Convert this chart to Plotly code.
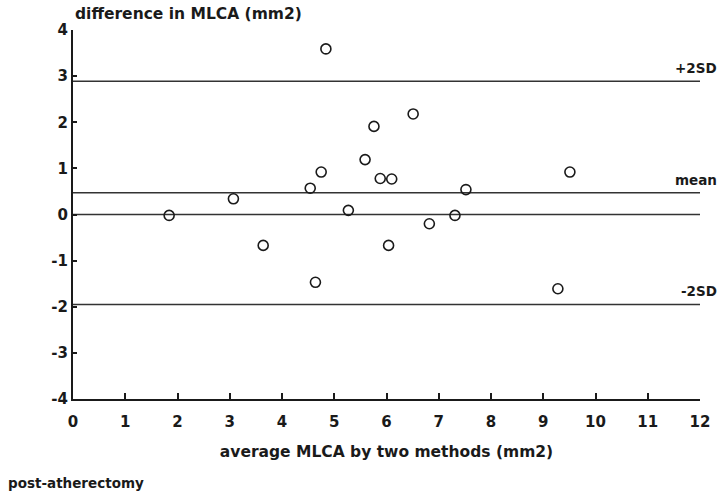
import plotly.graph_objects as go

# Bland-Altman comparison of MLCA measured by two methods (post-atherectomy)
avg_mlca = [1.84, 3.07, 3.64, 4.54, 4.64, 4.75, 4.84, 5.27, 5.59, 5.76,
            5.88, 6.10, 6.04, 6.51, 6.82, 7.31, 7.52, 9.28, 9.51]
diff_mlca = [-0.02, 0.34, -0.67, 0.57, -1.47, 0.92, 3.59, 0.09, 1.19, 1.91,
             0.78, 0.77, -0.67, 2.18, -0.20, -0.02, 0.54, -1.61, 0.92]

ref_names = ["+2SD", "mean", "", "-2SD"]
ref_values = [2.89, 0.47, 0.0, -1.95]

x_ticks = list(range(0, 13))
y_ticks = list(range(-4, 5))

FONT = "DejaVu Sans, Liberation Sans, sans-serif"
INK = "#1a1a1a"

# plot area in pixels
W, H = 725, 493
L, R, T, B = 73, 25, 30, 94
PW, PH = W - L - R, H - T - B

fig = go.Figure()

fig.add_trace(go.Scatter(
    x=avg_mlca, y=diff_mlca, mode="markers",
    marker=dict(symbol="circle-open", size=10, color=INK, line=dict(width=1.6)),
    cliponaxis=False, showlegend=False,
))

for name, val in zip(ref_names, ref_values):
    fig.add_shape(type="line", xref="x", yref="y", x0=0, x1=12, y0=val, y1=val,
                  line=dict(color="#333333", width=1.5), layer="below")
    if name:
        fig.add_annotation(x=1 + 19 / PW, y=val, xref="paper", yref="y", text=name,
                           showarrow=False, xanchor="right", yanchor="bottom",
                           yshift=3, font=dict(family=FONT, size=13.5, color=INK, weight="bold"))

fig.update_xaxes(
    range=[0, 12], tickvals=x_ticks, ticktext=[str(v) for v in x_ticks],
    showgrid=False, zeroline=False, showline=True, linecolor=INK, linewidth=2,
    ticks="inside", ticklen=6, tickwidth=1.5, tickcolor=INK, ticklabelstandoff=8,
    tickfont=dict(family=FONT, size=15, color=INK, weight="bold"),
    title=dict(text="average MLCA by two methods (mm2)", standoff=16,
               font=dict(family=FONT, size=15.5, color=INK, weight="bold")),
)
fig.update_yaxes(
    range=[-4, 4], tickvals=y_ticks, ticktext=[str(v) for v in y_ticks],
    showgrid=False, zeroline=False, showline=True, linecolor=INK, linewidth=2,
    ticks="inside", ticklen=4, tickwidth=1.5, tickcolor=INK,
    tickfont=dict(family=FONT, size=15, color=INK, weight="bold"),
)

fig.add_annotation(x=0, y=1, xref="paper", yref="paper", text="difference in MLCA (mm2)",
                   showarrow=False, xanchor="left", yanchor="bottom", yshift=5,
                   font=dict(family=FONT, size=15.5, color=INK, weight="bold"))
fig.add_annotation(x=-(L - 6) / PW, y=-(483 - (T + PH)) / PH, xref="paper", yref="paper",
                   text="post-atherectomy", showarrow=False, xanchor="left", yanchor="middle",
                   font=dict(family=FONT, size=13.5, color=INK, weight="bold"))

fig.update_layout(
    width=W, height=H,
    margin=dict(l=L, r=R, t=T, b=B),
    paper_bgcolor="white", plot_bgcolor="white",
)

fig.write_html("out.html")
